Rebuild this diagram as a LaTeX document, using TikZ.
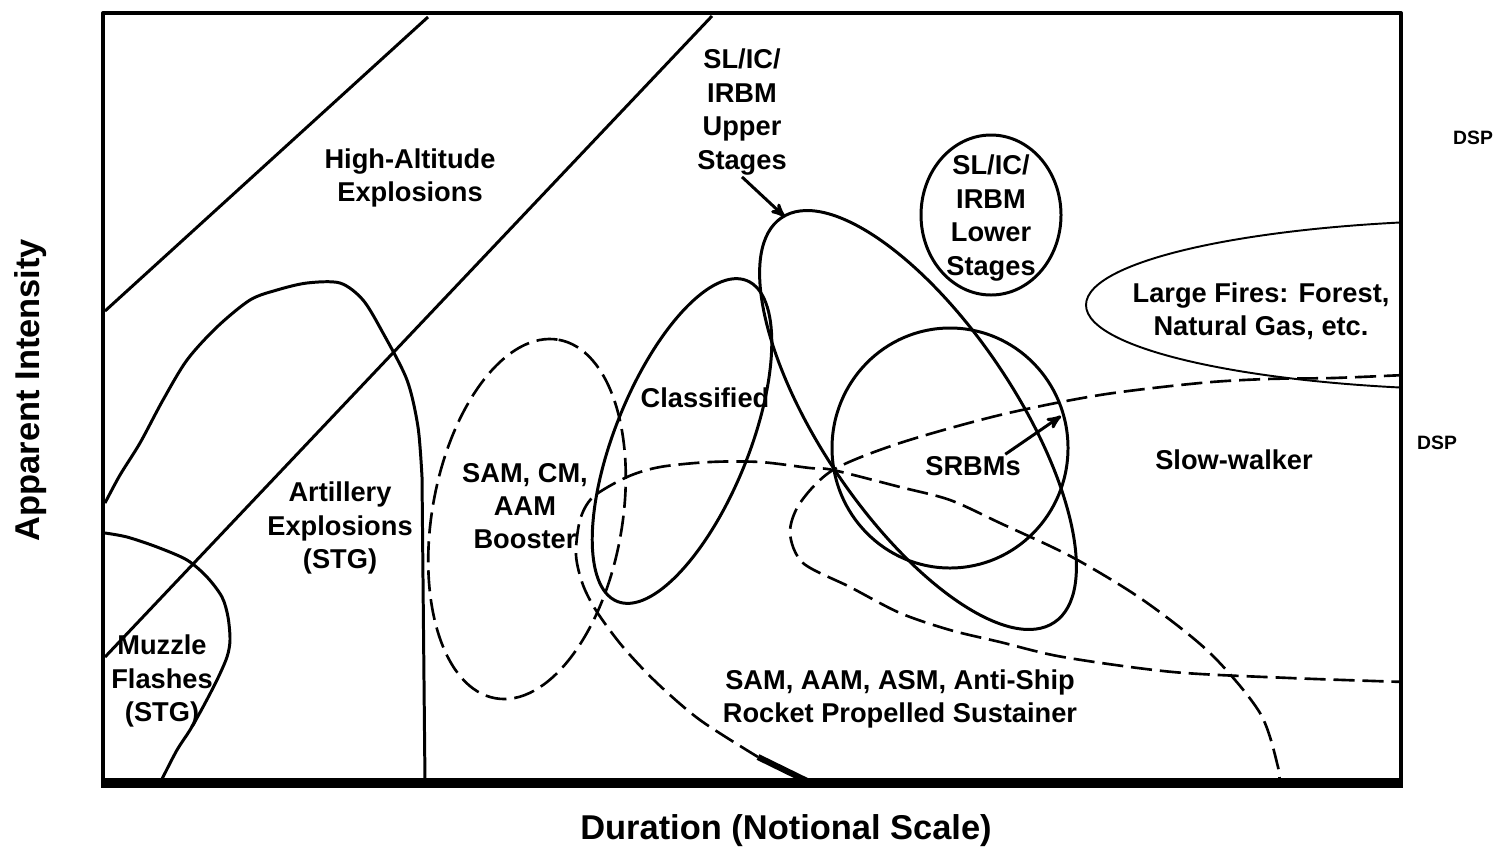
\documentclass[tikz,border=0pt]{standalone}
\usepackage{fontspec}
\setmainfont{Liberation Sans}
\usetikzlibrary{arrows,shapes}

\begin{document}
\begin{tikzpicture}[x=0.02cm,y=-0.02cm,>=stealth',line join=round,
  lbl/.style={font=\bfseries\fontsize{15.5}{19}\selectfont,align=center,inner sep=1pt},
  small/.style={font=\bfseries\fontsize{11}{13}\selectfont,inner sep=1pt},
  axislbl/.style={font=\bfseries\fontsize{19.6}{23}\selectfont,inner sep=1pt},
  zone/.style={line width=1.7pt},
  thinzone/.style={line width=1.1pt},
  dashzone/.style={line width=1.5pt,dash pattern=on 12pt off 4.5pt}]
\useasboundingbox (0,0) rectangle (1496,849);
\begin{scope}
\clip (103,13) rectangle (1401,783);
\draw[zone] (105,311) -- (428,17);
\draw[zone] (105,657) -- (712,16);
\draw[zone] plot[smooth] coordinates {(105,503) (120,475) (140,443) (163,400) (187,360) (217,327) (250,300) (277,290) (307,283) (340,283) (363,300) (383,333) (407,380) (418,427) (422,477)} -- (425,783);
\draw[zone] plot[smooth] coordinates {(105,533) (127,537) (157,547) (187,560) (207,577) (222,597) (228,617) (230,640) (227,657) (217,680) (203,707) (190,730) (177,750) (163,777) (160,783)};
\draw[dashzone,rotate around={80:(527,519)}] (527,519) ellipse [x radius=182,y radius=95];
\draw[zone,rotate around={68:(682,441)}] (682,441) ellipse [x radius=173,y radius=67];
\draw[zone,rotate around={124:(918,420)}] (918,420) ellipse [x radius=244,y radius=97];
\draw[zone] (991,215) ellipse [x radius=70,y radius=80];
\draw[zone] (950,448) ellipse [x radius=118,y radius=120];
\draw[thinzone] (1500,305) ellipse [x radius=414,y radius=85];
\draw[dashzone] plot[smooth] coordinates {(1405,375) (1333,378) (1267,379) (1200,383) (1100,395) (1000,415) (900,443) (833,470) (800,503) (790,533) (803,563) (850,587) (900,613) (950,630) (1000,642) (1063,657) (1173,672) (1290,678) (1405,682)};
\draw[dashzone] plot[smooth] coordinates {(758,757) (700,720) (657,683) (623,647) (597,612) (583,585) (576,555) (580,520) (593,497) (627,477) (660,467) (710,462) (760,462) (810,468) (833,470) (900,487) (950,500) (1000,523) (1072,557) (1143,600) (1210,653) (1260,713) (1278,767) (1279,785)};
\draw[line width=3.5pt] (758,757) -- (807,781);
\end{scope}
\draw[line width=2.3pt] (103,783) -- (103,13) -- (1401,13) -- (1401,783);
\draw[line width=5.7pt] (101,783) -- (1403,783);

\node[lbl] at (410,178) (high) {High-Altitude\\Explosions};
\node[lbl] at (340,528) (art) {Artillery\\Explosions\\(STG)};
\node[lbl] at (162,681) (muzzle) {Muzzle\\Flashes\\(STG)};
\node[lbl] at (525,506) (boost) {SAM, CM,\\AAM\\Booster};
\node[lbl] at (705,398) (classif) {Classified};
\node[lbl] at (742,112) (upper) {SL/IC/\\IRBM\\Upper\\Stages};
\node[lbl] at (991,218) (lower) {SL/IC/\\IRBM\\Lower\\Stages};
\node[lbl] at (1261,311) (fires) {Large Fires: Forest,\\Natural Gas, etc.};
\node[lbl] at (973,466) (srbm) {SRBMs};
\node[lbl] at (1234,460) (slow) {Slow-walker};
\node[lbl] at (900,699) (sust) {SAM, AAM, ASM, Anti-Ship\\Rocket Propelled Sustainer};
\node[small] at (1473,138) (dspa) {DSP};
\node[small] at (1437,443) (dspb) {DSP};
\node[axislbl] at (786,831) (xlbl) {Duration (Notional Scale)};
\node[axislbl,rotate=90] at (31,390) (ylbl) {Apparent Intensity};

\coordinate (uptip) at (785,217);
\coordinate (srbtip) at (1061,416);
\draw[zone,->] (upper.south) -- (uptip);
\draw[zone,->] (srbm.20) -- (srbtip);
\end{tikzpicture}
\end{document}
